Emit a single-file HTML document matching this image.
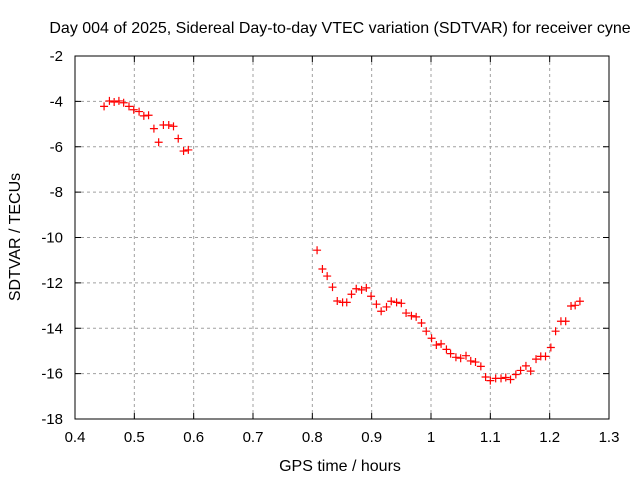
<!DOCTYPE html>
<html><head><meta charset="utf-8"><style>
body{margin:0;background:#fff}
svg text{font-family:"Liberation Sans",sans-serif;font-size:15px;fill:#000}
svg text.big{font-size:16px}
</style></head><body>
<svg id="chart" width="640" height="480">
<rect width="640" height="480" fill="#fff"/>
<text class="big" x="340" y="33" text-anchor="middle">Day 004 of 2025, Sidereal Day-to-day VTEC variation (SDTVAR) for receiver cyne</text>
<text class="big" x="340" y="471" text-anchor="middle">GPS time / hours</text>
<text class="big" transform="translate(20,237) rotate(-90)" text-anchor="middle">SDTVAR / TECUs</text>
<g id="grid"></g><g id="ticks"></g><g id="marks"></g>
<rect x="75" y="56" width="534" height="363" fill="none" stroke="#000"/>
</svg>
<script>
const xTicks=[0.4,0.5,0.6,0.7,0.8,0.9,1,1.1,1.2,1.3];
const xTickLabels=["0.4","0.5","0.6","0.7","0.8","0.9","1","1.1","1.2","1.3"];
const yTicks=[-2,-4,-6,-8,-10,-12,-14,-16,-18];
const yTickLabels=["-2","-4","-6","-8","-10","-12","-14","-16","-18"];
const timeHours=[0.449,0.458,0.466,0.474,0.482,0.491,0.499,0.508,0.516,0.524,0.533,0.541,0.549,0.558,0.566,0.574,0.583,0.591,
0.808,0.817,0.825,0.834,0.842,0.851,0.858,0.866,0.874,0.883,0.891,0.899,0.908,0.916,0.925,0.933,0.942,0.950,0.958,0.967,0.975,0.984,0.992,1.001,1.009,1.017,1.026,1.033,1.042,1.050,1.059,1.067,1.075,1.084,1.092,1.100,1.109,1.118,1.126,1.134,1.143,1.151,1.160,1.168,1.177,1.185,1.193,1.202,1.210,1.219,1.227,1.236,1.243,1.251];
const sdtvar=[-4.22,-3.98,-4.03,-3.98,-4.06,-4.22,-4.37,-4.45,-4.64,-4.61,-5.20,-5.80,-5.04,-5.04,-5.10,-5.64,-6.19,-6.14,
-10.56,-11.39,-11.70,-12.19,-12.80,-12.86,-12.86,-12.50,-12.26,-12.31,-12.22,-12.59,-12.94,-13.25,-13.06,-12.81,-12.86,-12.90,-13.33,-13.45,-13.50,-13.77,-14.13,-14.44,-14.74,-14.69,-14.93,-15.12,-15.28,-15.32,-15.21,-15.44,-15.49,-15.68,-16.15,-16.31,-16.21,-16.21,-16.17,-16.26,-16.04,-15.86,-15.66,-15.89,-15.36,-15.24,-15.24,-14.85,-14.13,-13.69,-13.69,-13.02,-12.99,-12.81];
const L=75,R=609,T=56,B=419;
const sx=v=>L+(v-0.4)/0.9*(R-L);
const sy=v=>T+(-2-v)/16*(B-T);
const NS="http://www.w3.org/2000/svg";
function mk(tag,attrs,parent){const e=document.createElementNS(NS,tag);for(const k in attrs)e.setAttribute(k,attrs[k]);parent.appendChild(e);return e;}
const grid=document.getElementById('grid'),ticks=document.getElementById('ticks'),marks=document.getElementById('marks');
xTicks.forEach((v,i)=>{const x=sx(v);
 if(i>0&&i<xTicks.length-1){const g=mk('line',{x1:x,x2:x,y1:T,y2:B,stroke:'#a0a0a0','stroke-dasharray':'3,3'},grid);
 
 }
 mk('line',{x1:x,x2:x,y1:B,y2:B-6,stroke:'#000'},ticks);mk('line',{x1:x,x2:x,y1:T,y2:T+6,stroke:'#000'},ticks);
 const t=mk('text',{x:x,y:442,'text-anchor':'middle'},ticks);t.textContent=xTickLabels[i];
 
 });
yTicks.forEach((v,i)=>{const y=sy(v);
 if(i>0&&i<yTicks.length-1){const g=mk('line',{x1:L,x2:R,y1:y,y2:y,stroke:'#a0a0a0','stroke-dasharray':'3,3'},grid);
 
 }
 mk('line',{x1:L,x2:L+6,y1:y,y2:y,stroke:'#000'},ticks);mk('line',{x1:R,x2:R-6,y1:y,y2:y,stroke:'#000'},ticks);
 const t=mk('text',{x:63,y:y+5,'text-anchor':'end'},ticks);t.textContent=yTickLabels[i];
 
 });
timeHours.forEach((h,i)=>{const x=sx(h),y=sy(sdtvar[i]);
 const p=mk('path',{d:`M${x-4},${y}H${x+4}M${x},${y-4}V${y+4}`,stroke:'#ff0000','stroke-width':1.2,fill:'none'},marks);
 
 });
</script>
</body></html>
